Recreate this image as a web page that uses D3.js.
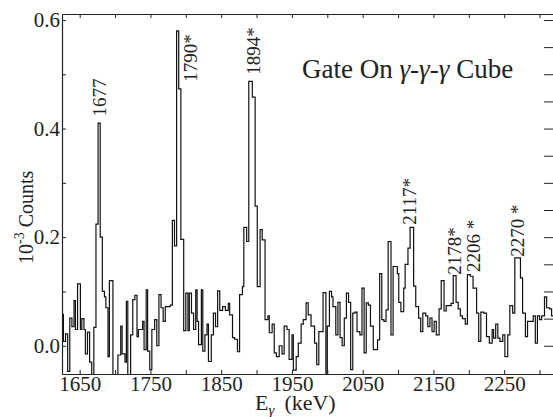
<!DOCTYPE html>
<html>
<head>
<meta charset="utf-8">
<script src="https://cdn.jsdelivr.net/npm/d3@7"></script>
<style>
body { margin: 0; background: #fff; }
svg text { font-family: "Liberation Serif", "DejaVu Serif", "Times New Roman", serif !important; fill: #222; }
</style>
</head>
<body>
<script>
const w = 553;
const h = 417;

// lower edge of each channel (keV) and counts (10^-3)
const binStart = [
  1625, 1627, 1630, 1633, 1636, 1639, 1642, 1644, 1647, 1651, 1653, 1656, 1658, 1661, 1664, 1667,
  1670, 1673, 1676, 1679, 1682, 1685, 1687, 1690, 1692, 1697, 1700, 1704, 1708, 1710, 1714, 1716,
  1718, 1722, 1725, 1728, 1731, 1733, 1736, 1739, 1741, 1744, 1746, 1749, 1752, 1756, 1759, 1762,
  1765, 1768, 1771, 1774, 1778, 1781, 1784, 1787, 1790, 1793, 1797, 1800, 1803, 1805, 1808, 1811,
  1814, 1816, 1818, 1822, 1824, 1827, 1830, 1832, 1836, 1839, 1842, 1845, 1848, 1852, 1856, 1860,
  1862, 1866, 1869, 1873, 1876, 1880, 1882, 1886, 1889, 1894, 1898, 1901, 1905, 1908, 1912, 1916,
  1918, 1922, 1925, 1928, 1932, 1936, 1939, 1943, 1946, 1950, 1952, 1956, 1959, 1963, 1966, 1970,
  1973, 1977, 1982, 1985, 1988, 1991, 1994, 1998, 2000, 2003, 2006, 2008, 2012, 2015, 2018, 2021,
  2024, 2027, 2030, 2033, 2036, 2039, 2042, 2046, 2049, 2052, 2055, 2058, 2061, 2065, 2068, 2071,
  2074, 2077, 2080, 2083, 2086, 2090, 2093, 2096, 2099, 2101, 2104, 2108, 2110, 2114, 2117, 2122,
  2125, 2129, 2132, 2135, 2139, 2142, 2145, 2148, 2151, 2154, 2158, 2161, 2165, 2168, 2171, 2175,
  2178, 2182, 2185, 2188, 2191, 2195, 2198, 2202, 2206, 2211, 2214, 2217, 2221, 2225, 2229, 2233,
  2235, 2238, 2241, 2244, 2248, 2251, 2255, 2258, 2262, 2265, 2269, 2273, 2276, 2280, 2283, 2287,
  2291, 2294, 2297, 2300, 2303, 2307, 2310, 2314, 2317
];
const counts = [
  0.058, 0.008, 0.022, -0.047, 0.051, 0.035, 0.083, 0.03, 0.114, 0.03, 0.05, 0.03, -0.015, 0.025, -0.03, -0.053,
  0.034, 0.224, 0.41, 0.2, 0.1, 0.09, 0.07, -0.02, 0.12, -0.055, -0.055, -0.017, 0.036, -0.015, -0.03, 0.082,
  -0.055, 0.02, 0.085, 0.093, 0.017, 0.03, 0.03, 0.045, -0.007, 0.103, -0.01, -0.044, 0.03, 0.048, 0.0, 0.094,
  0.07, 0.045, 0.072, 0.072, 0.075, 0.231, 0.184, 0.58, 0.473, 0.196, 0.028, 0.097, 0.028, 0.097, 0.06, 0.03,
  0.103, 0.045, 0.002, 0.103, -0.01, 0.02, 0.04, -0.029, 0.02, 0.06, 0.035, 0.101, 0.065, 0.072, 0.065, 0.078,
  0.057, 0.015, 0.012, -0.011, 0.094, 0.109, 0.218, 0.192, 0.487, 0.458, 0.257, 0.109, 0.214, 0.195, 0.048, 0.055,
  0.024, 0.04, -0.013, -0.02, 0.0, -0.015, 0.036, 0.03, -0.025, 0.02, -0.045, -0.02, 0.005, 0.04, 0.048, 0.079,
  0.057, 0.036, 0.005, -0.035, 0.026, 0.026, 0.098, -0.055, 0.036, 0.1, 0.09, 0.072, 0.02, 0.08, 0.015, 0.0,
  0.051, 0.097, 0.08, -0.044, 0.06, 0.062, 0.026, 0.02, 0.106, -0.013, 0.079, 0.075, 0.036, -0.007, -0.007, 0.011,
  0.133, 0.048, 0.045, 0.066, 0.192, 0.02, 0.146, 0.146, 0.133, 0.08, 0.063, 0.106, 0.15, 0.18, 0.218, 0.11,
  0.072, 0.051, 0.026, 0.06, 0.055, 0.035, 0.051, 0.026, 0.045, 0.02, 0.068, 0.12, 0.064, 0.074, 0.074, 0.078,
  0.129, 0.08, 0.068, 0.055, 0.05, 0.04, 0.131, 0.128, 0.106, 0.06, 0.008, 0.062, 0.06, 0.017, 0.005, 0.03,
  0.014, 0.04, 0.014, 0.008, 0.02, -0.02, 0.02, 0.074, 0.06, 0.162, 0.162, 0.125, 0.06, 0.017, 0.045, 0.045,
  0.055, 0.005, 0.055, 0.048, 0.055, 0.09, 0.07, 0.068, 0.055
];
const lastEdge = 2320;

const xTicks = [1650, 1700, 1750, 1800, 1850, 1900, 1950, 2000, 2050, 2100, 2150, 2200, 2250, 2300];
const xLabels = [1650, 1750, 1850, 1950, 2050, 2150, 2250];
const yTicksLeft = [0, 0.1, 0.2, 0.3, 0.4, 0.5, 0.6];
const yLabels = [0, 0.2, 0.4, 0.6];
const yTicksRight = [0, 0.05, 0.1, 0.15, 0.2, 0.25, 0.3, 0.35, 0.4, 0.45, 0.5, 0.55, 0.6];

const peakText = ["1677", "1790*", "1894*", "2117*", "2178*", "2206 *", "2270 *"];
// where each rotated label starts: [keV, counts]
const peakAt = [[1687, 0.422], [1816, 0.486], [1905, 0.499], [2125, 0.223], [2189, 0.131], [2216, 0.136], [2278, 0.164]];

const serif = "'Liberation Serif', 'DejaVu Serif', 'Times New Roman', serif";
const margin = {top: 14, right: 0, bottom: 43, left: 62};

const svg = d3.select("body")
    .append("svg")
    .attr("width", w)
    .attr("height", h)
    .attr("font-family", serif);

const xScale = d3.scaleLinear()
    .domain([1625, 2319])
    .range([margin.left, w - margin.right]);

const yScale = d3.scaleLinear()
    .domain([-0.052, 0.611])
    .range([h - margin.bottom, margin.top]);

svg.append("clipPath")
    .attr("id", "plot")
    .append("rect")
    .attr("x", margin.left)
    .attr("y", margin.top)
    .attr("width", w - margin.left - margin.right)
    .attr("height", h - margin.top - margin.bottom);

// histogram as a step line
const pts = binStart.map((e, i) => [e, counts[i]]);
pts.push([lastEdge, counts[counts.length - 1]]);

const line = d3.line()
    .x(d => xScale(d[0]))
    .y(d => yScale(d[1]))
    .curve(d3.curveStepAfter);

svg.append("path")
    .datum(pts)
    .attr("clip-path", "url(#plot)")
    .attr("fill", "none")
    .attr("stroke", "#111")
    .attr("stroke-width", 1.2)
    .attr("d", line);

// axes, ticks pointing inward
const bottom = h - margin.bottom;
const xAxis = d3.axisBottom(xScale)
    .tickValues(xTicks)
    .tickSizeInner(-4)
    .tickSizeOuter(0)
    .tickPadding(2)
    .tickFormat(d => xLabels.includes(d) ? d : "");

svg.append("g")
    .attr("transform", "translate(0," + bottom + ")")
    .call(xAxis);

svg.append("g")
    .attr("transform", "translate(0," + margin.top + ")")
    .call(d3.axisTop(xScale).tickValues(xTicks).tickSizeInner(-4).tickSizeOuter(0).tickFormat(""));

const yAxis = d3.axisLeft(yScale)
    .tickValues(yTicksLeft)
    .tickSizeInner(-4)
    .tickSizeOuter(0)
    .tickPadding(2)
    .tickFormat(d => yLabels.some(v => Math.abs(v - d) < 1e-9) ? d.toFixed(1) : "");

svg.append("g")
    .attr("transform", "translate(" + margin.left + ",0)")
    .call(yAxis);

// right frame sits just past the picture edge, only its ticks show
svg.append("g")
    .attr("transform", "translate(" + (w + 1) + ",0)")
    .call(d3.axisRight(yScale).tickValues(yTicksRight).tickSizeInner(-10).tickSizeOuter(0).tickFormat(""));

svg.selectAll("g")
    .attr("font-family", serif);
svg.selectAll(".domain")
    .attr("stroke", "#222")
    .attr("stroke-width", 1.2);
svg.selectAll(".tick line")
    .attr("stroke", "#222");
svg.selectAll(".tick text")
    .attr("font-size", 21)
    .attr("fill", "#222");

// peak labels
svg.selectAll(".peak")
    .data(peakText)
    .enter()
    .append("text")
    .attr("class", "peak")
    .attr("transform", (d, i) => "translate(" + xScale(peakAt[i][0]) + "," + yScale(peakAt[i][1]) + ") rotate(-90)")
    .attr("font-size", 19)
    .text(d => d);

// inset title
const title = svg.append("text")
    .attr("x", 302)
    .attr("y", 78)
    .attr("font-size", 27);
title.append("tspan").text("Gate On ");
title.append("tspan").attr("font-style", "italic").text("γ");
title.append("tspan").text("-");
title.append("tspan").attr("font-style", "italic").text("γ");
title.append("tspan").text("-");
title.append("tspan").attr("font-style", "italic").text("γ");
title.append("tspan").text(" Cube");

// y title
const ytitle = svg.append("text")
    .attr("transform", "translate(33,264) rotate(-90)")
    .attr("font-size", 20);
ytitle.append("tspan").text("10");
ytitle.append("tspan").attr("font-size", 14).attr("dy", -9).text("-3");
ytitle.append("tspan").attr("dy", 9).text(" Counts");

// x title
const xtitle = svg.append("text")
    .attr("x", 255)
    .attr("y", 410)
    .attr("font-size", 22);
xtitle.append("tspan").text("E");
xtitle.append("tspan").attr("font-size", 15).attr("font-style", "italic").attr("dy", 5).text("γ");
xtitle.append("tspan").attr("dy", -5).attr("dx", 10).text("(keV)");
</script>
</body>
</html>
